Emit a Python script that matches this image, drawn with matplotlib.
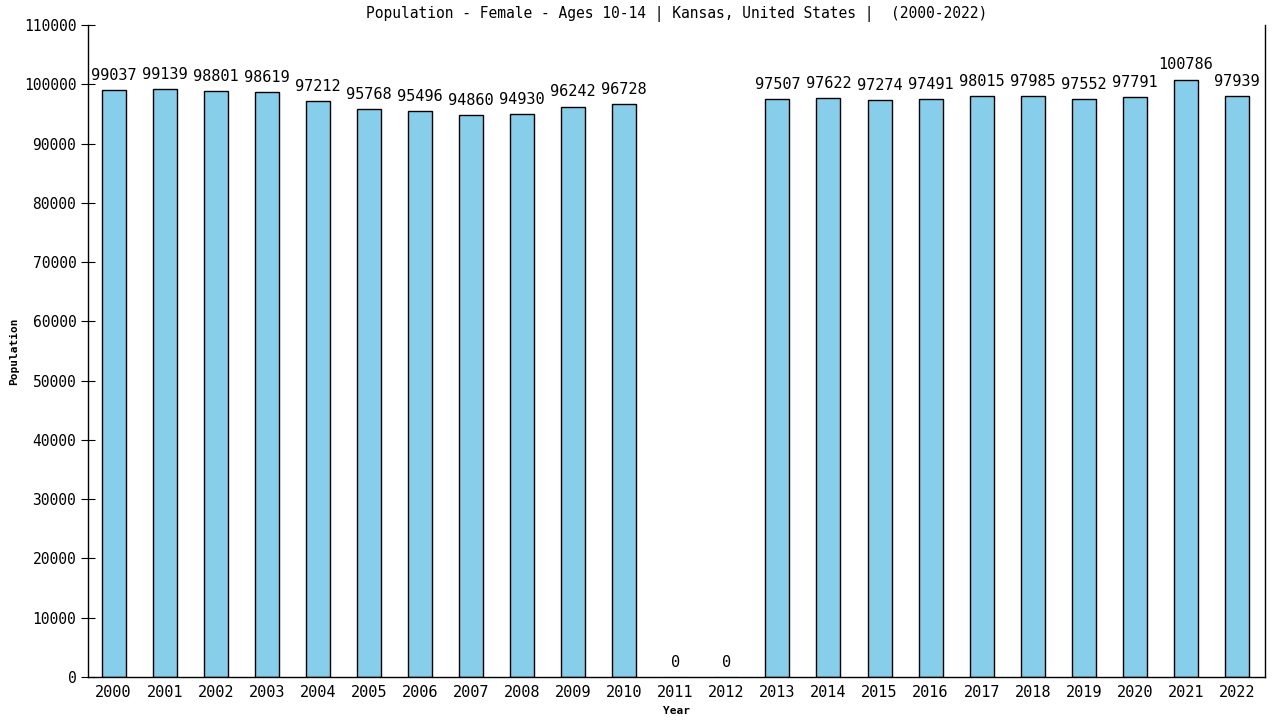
import matplotlib
matplotlib.use("Agg")
import matplotlib.pyplot as plt
import numpy as np

years = list(range(2000, 2023))
population = [99037, 99139, 98801, 98619, 97212, 95768, 95496, 94860, 94930,
              96242, 96728, 0, 0, 97507, 97622, 97274, 97491, 98015, 97985,
              97552, 97791, 100786, 97939]

plt.rcParams['font.family'] = ['DejaVu Sans Mono']

fig = plt.figure(figsize=(12.8, 7.2), dpi=100)
ax = fig.add_axes([0.0688, 0.0597, 0.9195, 0.9056])

x = np.arange(len(years))
edges = ['black' if v > 0 else '#87ceeb' for v in population]
ax.bar(x, population, width=0.47, color='#87ceeb', edgecolor=edges, linewidth=1)

for xi, v in zip(x, population):
    ax.text(xi, v + 1200, str(v), ha='center', va='bottom', fontsize=11)

ax.set_xlim(-0.5, len(years) - 0.45)
ax.set_ylim(0, 110000)
ax.set_yticks(np.arange(0, 110001, 10000))
ax.set_xticks(x)
ax.set_xticklabels([str(y) for y in years], fontsize=11)
ax.tick_params(axis='y', labelsize=10.5, direction='inout', length=10)
ax.tick_params(axis='x', length=0, pad=6)

ax.spines['top'].set_visible(False)
for s in ['left', 'right', 'bottom']:
    ax.spines[s].set_linewidth(1)

ax.set_title('Population - Female - Ages 10-14 | Kansas, United States |  (2000-2022)',
             fontsize=10.5, pad=5)
ax.set_xlabel('Year', fontsize=8, fontweight='bold', labelpad=4)
ax.set_ylabel('Population', fontsize=8, fontweight='bold', labelpad=3)

fig.savefig('out.png', dpi=100)
